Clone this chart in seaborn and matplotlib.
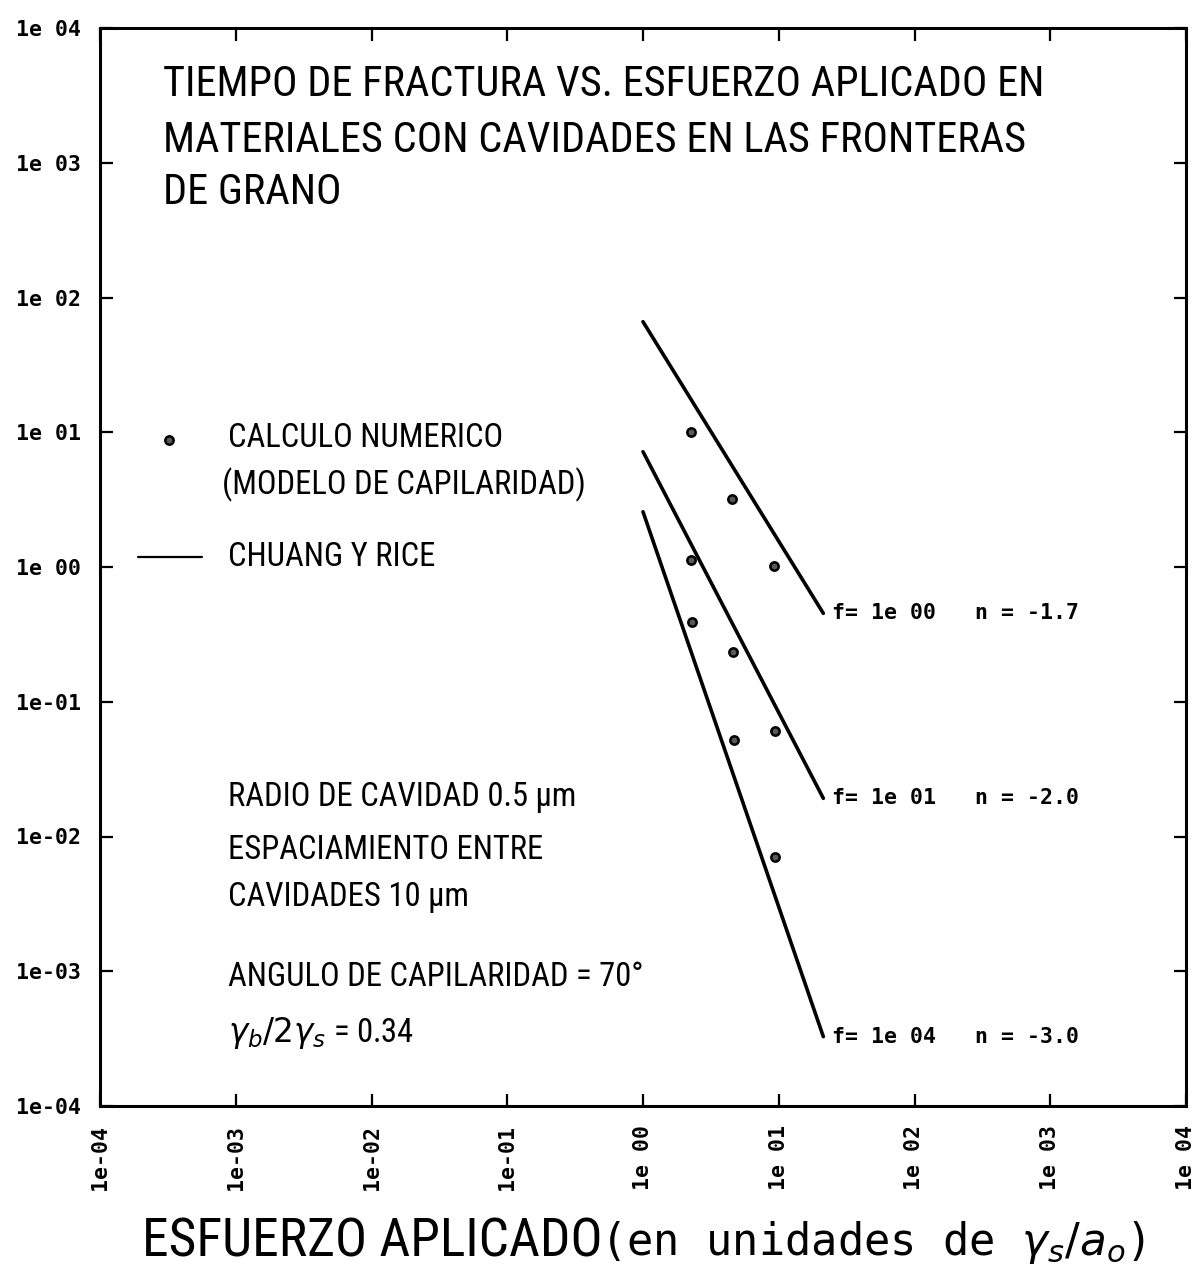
import numpy as np
import pandas as pd
import matplotlib
matplotlib.use("Agg")
import matplotlib.pyplot as plt
import seaborn as sns
from matplotlib import font_manager as fm
from matplotlib.ticker import FixedLocator, FixedFormatter, NullLocator

# ---------------- data ----------------
# numerical calculation (capillarity model)
point_x = [2.25, 4.55, 9.2, 2.25, 4.6, 9.4, 2.3, 4.7, 9.4]
point_y = [10.0, 3.18, 1.02, 1.13, 0.233, 0.061, 0.389, 0.052, 0.0071]
point_f = ["1e 00"] * 3 + ["1e 01"] * 3 + ["1e 04"] * 3

# Chuang y Rice lines (end points)
line_x = [1.0, 21.3]
line_y_start = [66.1, 7.17, 2.57]
line_y_end = [0.453, 0.0192, 3.27e-4]
line_f = ["1e 00", "1e 01", "1e 04"]
line_labels = ["f= 1e 00   n = -1.7", "f= 1e 01   n = -2.0", "f= 1e 04   n = -3.0"]

tick_values = [1e-4, 1e-3, 1e-2, 1e-1, 1e0, 1e1, 1e2, 1e3, 1e4]
tick_labels = ["1e-04", "1e-03", "1e-02", "1e-01", "1e 00", "1e 01", "1e 02", "1e 03", "1e 04"]

title_lines = ["TIEMPO DE FRACTURA VS. ESFUERZO APLICADO EN",
               "MATERIALES CON CAVIDADES EN LAS FRONTERAS",
               "DE GRANO"]
legend_point = ["CALCULO NUMERICO", "(MODELO DE CAPILARIDAD)"]
legend_line = "CHUANG Y RICE"
info_lines = ["RADIO DE CAVIDAD 0.5 μm",
              "ESPACIAMIENTO ENTRE",
              "CAVIDADES 10 μm",
              "ANGULO DE CAPILARIDAD = 70°",
              r"$\gamma_b/2\gamma_s$ = 0.34"]

# ---------------- style ----------------
sns.set_style("white")


def has_font(name):
    try:
        fm.findfont(fm.FontProperties(family=name), fallback_to_default=False)
        return True
    except Exception:
        return False


narrow = next((n for n in ["Liberation Sans Narrow", "DejaVu Sans Condensed", "Roboto Condensed"]
               if has_font(n)), None)
if narrow:
    text_family = [narrow, "DejaVu Sans"]
    title_size, body_size, xlab_size = 30.5, 23.5, 38.5
else:
    text_family = ["DejaVu Sans"]
    title_size, body_size, xlab_size = 23, 18.5, 31

plt.rcParams["font.family"] = text_family
plt.rcParams["mathtext.fontset"] = "dejavusans"
plt.rcParams["text.color"] = "black"
plt.rcParams["xtick.color"] = "black"
plt.rcParams["ytick.color"] = "black"
mono = ["DejaVu Sans Mono", "DejaVu Sans"]

W, H = 1197, 1270
fig = plt.figure(figsize=(W / 100, H / 100), dpi=100)
L, R, T, B = 100, 1186, 28, 1106
ax = fig.add_axes([L / W, 1 - B / H, (R - L) / W, (B - T) / H])


def fx(px):
    return px / W


def fy(py):
    return 1 - py / H


# lines
rows = []
for f, y0, y1 in zip(line_f, line_y_start, line_y_end):
    rows.append({"x": line_x[0], "y": y0, "f": f})
    rows.append({"x": line_x[1], "y": y1, "f": f})
lines_df = pd.DataFrame(rows)
sns.lineplot(data=lines_df, x="x", y="y", units="f", estimator=None,
             color="black", linewidth=2.6, ax=ax, legend=False)

pts_df = pd.DataFrame({"x": point_x, "y": point_y, "f": point_f})
sns.scatterplot(data=pts_df, x="x", y="y", marker="o", s=36, color="0.35",
                edgecolor="black", linewidth=1.8, ax=ax, legend=False, zorder=3)

ax.set_xscale("log")
ax.set_yscale("log")
ax.set_xlim(1e-4, 1e4)
ax.set_ylim(1e-4, 1e4)
ax.set_xlabel("")
ax.set_ylabel("")

for axis in (ax.xaxis, ax.yaxis):
    axis.set_major_locator(FixedLocator(tick_values))
    axis.set_major_formatter(FixedFormatter(tick_labels))
    axis.set_minor_locator(NullLocator())

ax.tick_params(axis="both", which="major", direction="in", length=9, width=1.6,
               top=True, right=True, bottom=True, left=True, pad=14, colors="black")
for lab in ax.get_xticklabels() + ax.get_yticklabels():
    lab.set_family(mono)
    lab.set_fontweight("bold")
    lab.set_fontsize(15.5)
for lab in ax.get_xticklabels():
    lab.set_rotation(90)
    lab.set_va("top")
    lab.set_ha("center")

for sp in ax.spines.values():
    sp.set_visible(True)
    sp.set_color("black")
    sp.set_linewidth(2.2)

# line labels
for lbl, y1 in zip(line_labels, line_y_end):
    ax.annotate(lbl, xy=(line_x[1], y1), xytext=(6, 0), textcoords="offset points",
                ha="left", va="center", family=mono, fontweight="bold", fontsize=15.5)

# title
for txt, py in zip(title_lines, [84, 141, 192]):
    fig.text(fx(163), fy(py), txt, ha="left", va="center", fontsize=title_size)

# legend
ax.plot([(169 - L) / (R - L)], [(B - 440) / (B - T)],
        transform=ax.transAxes, marker="o", markersize=6, color="0.35",
        markeredgecolor="black", markeredgewidth=1.8, linestyle="none", clip_on=False)
ax.plot([(138 - L) / (R - L), (202 - L) / (R - L)], [(B - 557) / (B - T)] * 2,
        transform=ax.transAxes, color="black", linewidth=1.6, clip_on=False)
fig.text(fx(228), fy(438), legend_point[0], ha="left", va="center", fontsize=body_size)
fig.text(fx(222), fy(485), legend_point[1], ha="left", va="center", fontsize=body_size)
fig.text(fx(228), fy(557), legend_line, ha="left", va="center", fontsize=body_size)

# info block
for txt, py in zip(info_lines, [797, 850, 897, 977, 1033]):
    fig.text(fx(228), fy(py), txt, ha="left", va="center", fontsize=body_size)

# x label
fig.text(fx(142), fy(1242), "ESFUERZO APLICADO", ha="left", va="center", fontsize=xlab_size)
fig.text(fx(600), fy(1242), r"(en unidades de $\gamma_s/a_o$)", ha="left", va="center",
         fontsize=31.5, family=mono)

fig.savefig("out.png", dpi=100, facecolor="white")
